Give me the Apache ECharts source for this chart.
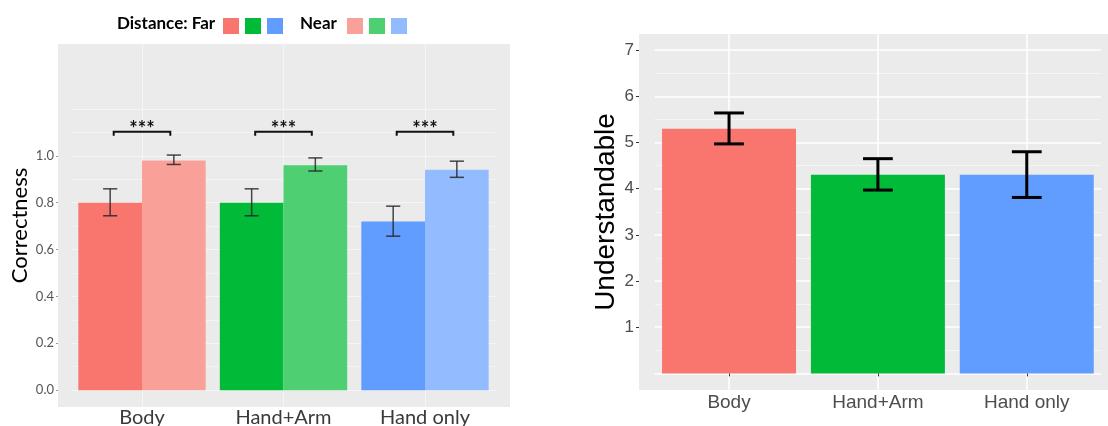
<!DOCTYPE html>
<html>
<head>
<meta charset="utf-8">
<script src="https://cdn.jsdelivr.net/npm/echarts@6/dist/echarts.min.js"></script>
<style>
  html, body { margin: 0; padding: 0; background: #fff; }
  #main { width: 1108px; height: 426px; }
</style>
</head>
<body>
<div id="main"></div>
<script>
// categories shared by both panels
var categories = ['Body', 'Hand+Arm', 'Hand only'];

// left panel: correctness by distance
var farCorrect = [0.80, 0.80, 0.72];
var farLow = [0.744, 0.744, 0.657];
var farHigh = [0.859, 0.859, 0.785];
var nearCorrect = [0.98, 0.96, 0.94];
var nearLow = [0.963, 0.935, 0.908];
var nearHigh = [1.003, 0.991, 0.977];
var sigLevel = [1.103, 1.103, 1.103];
var sigText = ['***', '***', '***'];
var leftLabelTicks = [0, 0.2, 0.4, 0.6, 0.8, 1.0];
var leftExtraLines = [1.2];
var leftMinorLines = [0.1, 0.3, 0.5, 0.7, 0.9, 1.1];

// right panel: understandable
var understand = [5.30, 4.30, 4.30];
var understandLow = [4.97, 3.97, 3.81];
var understandHigh = [5.64, 4.65, 4.80];
var rightLabelTicks = [1, 2, 3, 4, 5, 6, 7];
var rightExtraLines = [0];
var rightMinorLines = [0.5, 1.5, 2.5, 3.5, 4.5, 5.5, 6.5];

var farColors = ['#F8766D', '#00BA38', '#619CFF'];
var nearColors = ['#F9A199', '#4DCF72', '#93BBFF'];

var chart = echarts.init(document.getElementById('main'));

function errorBar(offsetFrac, capFrac, lineW, color) {
  return function (params, api) {
    var i = api.value(0);
    var lo = api.coord([i, api.value(1)]);
    var hi = api.coord([i, api.value(2)]);
    var band = api.size([1, 0])[0];
    var x = lo[0] + band * offsetFrac;
    var cap = band * capFrac / 2;
    var st = { stroke: color, lineWidth: lineW, fill: null };
    return {
      type: 'group',
      children: [
        { type: 'line', shape: { x1: x, y1: hi[1], x2: x, y2: lo[1] }, style: st },
        { type: 'line', shape: { x1: x - cap, y1: hi[1], x2: x + cap, y2: hi[1] }, style: st },
        { type: 'line', shape: { x1: x - cap, y1: lo[1], x2: x + cap, y2: lo[1] }, style: st }
      ]
    };
  };
}

function bracket(params, api) {
  var i = api.value(0);
  var c = api.coord([i, api.value(1)]);
  var band = api.size([1, 0])[0];
  var half = band * 0.2;
  var st = { stroke: '#111', lineWidth: 2, fill: null };
  return {
    type: 'group',
    children: [
      { type: 'polyline', shape: { points: [[c[0] - half, c[1] + 4], [c[0] - half, c[1]], [c[0] + half, c[1]], [c[0] + half, c[1] + 4]] }, style: st },
      { type: 'text', style: { text: sigText[params.dataIndex], x: c[0], y: c[1] - 2, textAlign: 'center', textVerticalAlign: 'middle', font: 'bold 20px Lato', fill: '#111' } }
    ]
  };
}

// hidden helper axis that only draws grid lines at given values
function lineAxis(grid, min, max, values, color, width) {
  return {
    type: 'value', gridIndex: grid, min: min, max: max, position: 'left',
    axisLine: { show: false }, axisLabel: { show: false },
    axisTick: { show: false, customValues: values },
    splitLine: { show: true, lineStyle: { color: color, width: width } }
  };
}

// legend drawn as plain shapes
var legendItems = [
  { type: 'text', left: 117, top: 15, style: { text: 'Distance: Far', font: 'bold 17px Lato', fill: '#000' } },
  { type: 'text', left: 300, top: 15, style: { text: 'Near', font: 'bold 17px Lato', fill: '#000' } }
];
farColors.forEach(function (c, k) {
  legendItems.push({ type: 'rect', shape: { x: 223 + k * 22, y: 18, width: 16, height: 16 }, style: { fill: c } });
});
nearColors.forEach(function (c, k) {
  legendItems.push({ type: 'rect', shape: { x: 347 + k * 22, y: 18, width: 16, height: 16 }, style: { fill: c } });
});

var option = {
  animation: false,
  backgroundColor: '#fff',
  graphic: [
    { type: 'rect', z: -10, shape: { x: 58, y: 44, width: 452, height: 363 }, style: { fill: '#EBEBEB' } },
    { type: 'rect', z: -10, shape: { x: 639, y: 34, width: 469, height: 356 }, style: { fill: '#EBEBEB' } }
  ].concat(legendItems),
  grid: [
    { left: 71.25, right: 612.25, top: 44, bottom: 19, outerBoundsMode: 'none' },
    { left: 654.6, right: 6.8, top: 34, bottom: 36, outerBoundsMode: 'none' }
  ],
  xAxis: [
    {
      type: 'category', gridIndex: 0, data: categories,
      axisLine: { show: false }, axisTick: { show: false, alignWithLabel: true },
      splitLine: { show: true, alignWithLabel: true, lineStyle: { color: '#F5F5F5', width: 1 } },
      axisLabel: { fontFamily: 'Lato', fontSize: 20, color: '#3A3A3A', margin: 1 }
    },
    {
      type: 'category', gridIndex: 1, data: categories,
      axisLine: { show: false },
      axisTick: { show: true, alignWithLabel: true, length: 3, lineStyle: { color: '#333' } },
      splitLine: { show: true, alignWithLabel: true, lineStyle: { color: '#fff', width: 1.5 } },
      axisLabel: { fontFamily: 'Liberation Sans', fontSize: 19, color: '#4D4D4D', margin: 3 }
    }
  ],
  yAxis: [
    {
      type: 'value', gridIndex: 0, min: -0.072, max: 1.477, offset: 13.25,
      name: 'Correctness', nameLocation: 'middle', nameGap: 27,
      nameTextStyle: { fontFamily: 'Lato', fontSize: 22, color: '#000' },
      axisLine: { show: false },
      axisTick: { show: true, length: 2, customValues: leftLabelTicks, lineStyle: { color: '#999' } },
      axisLabel: { customValues: leftLabelTicks, fontFamily: 'Lato', fontSize: 13, color: '#555', margin: 4,
        formatter: function (v) { return v.toFixed(1); } },
      splitLine: { show: true, lineStyle: { color: '#F5F5F5', width: 1 } }
    },
    lineAxis(0, -0.072, 1.477, leftExtraLines, '#F5F5F5', 1),
    lineAxis(0, -0.072, 1.477, leftMinorLines, '#F3F3F3', 1),
    {
      type: 'value', gridIndex: 1, min: -0.36, max: 7.35, offset: 15.6,
      name: 'Understandable', nameLocation: 'middle', nameGap: 17,
      nameTextStyle: { fontFamily: 'Liberation Sans', fontSize: 28, color: '#000' },
      axisLine: { show: false },
      axisTick: { show: true, length: 3, customValues: rightLabelTicks, lineStyle: { color: '#333' } },
      axisLabel: { customValues: rightLabelTicks, fontFamily: 'Liberation Sans', fontSize: 17, color: '#4D4D4D', margin: 5 },
      splitLine: { show: true, lineStyle: { color: '#fff', width: 1.5 } }
    },
    lineAxis(1, -0.36, 7.35, rightExtraLines, '#fff', 1.5),
    lineAxis(1, -0.36, 7.35, rightMinorLines, '#F8F8F8', 0.8)
  ],
  series: [
    {
      name: 'Far', type: 'bar', xAxisIndex: 0, yAxisIndex: 0,
      barGap: '0%', barCategoryGap: '10%',
      data: farCorrect.map(function (v, i) { return { value: v, itemStyle: { color: farColors[i] } }; })
    },
    {
      name: 'Near', type: 'bar', xAxisIndex: 0, yAxisIndex: 0,
      barGap: '0%', barCategoryGap: '10%',
      data: nearCorrect.map(function (v, i) { return { value: v, itemStyle: { color: nearColors[i] } }; })
    },
    {
      type: 'custom', xAxisIndex: 0, yAxisIndex: 0, z: 5,
      renderItem: errorBar(-0.225, 0.1, 1.5, 'rgba(40,40,40,0.85)'),
      encode: { x: 0, y: [1, 2] },
      data: categories.map(function (c, i) { return [i, farLow[i], farHigh[i]]; })
    },
    {
      type: 'custom', xAxisIndex: 0, yAxisIndex: 0, z: 5,
      renderItem: errorBar(0.225, 0.1, 1.5, 'rgba(40,40,40,0.85)'),
      encode: { x: 0, y: [1, 2] },
      data: categories.map(function (c, i) { return [i, nearLow[i], nearHigh[i]]; })
    },
    {
      type: 'custom', xAxisIndex: 0, yAxisIndex: 0, z: 5,
      renderItem: bracket,
      encode: { x: 0, y: 1 },
      data: categories.map(function (c, i) { return [i, sigLevel[i]]; })
    },
    {
      name: 'Understandable', type: 'bar', xAxisIndex: 1, yAxisIndex: 3,
      barCategoryGap: '10%',
      data: understand.map(function (v, i) { return { value: v, itemStyle: { color: farColors[i] } }; })
    },
    {
      type: 'custom', xAxisIndex: 1, yAxisIndex: 3, z: 5,
      renderItem: errorBar(0, 0.2, 3, '#000'),
      encode: { x: 0, y: [1, 2] },
      data: categories.map(function (c, i) { return [i, understandLow[i], understandHigh[i]]; })
    }
  ]
};

chart.setOption(option);
</script>
</body>
</html>
